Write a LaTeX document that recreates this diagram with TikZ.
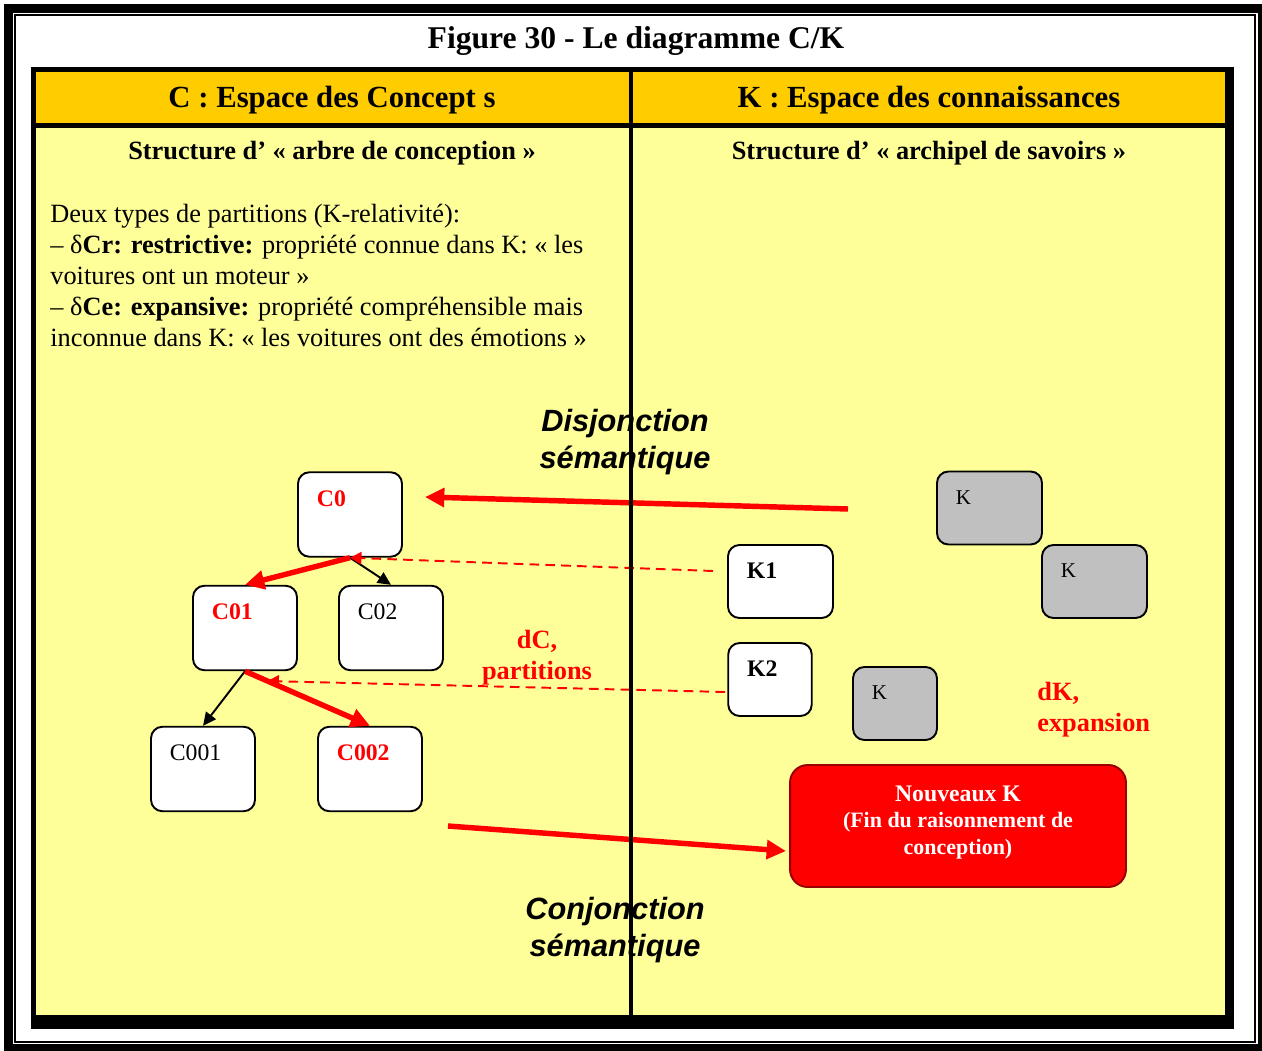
\documentclass[tikz,border=0pt]{standalone}
\usepackage{fontspec}
\setmainfont{Liberation Serif}
\newfontfamily\arialfont{Liberation Sans}
\usetikzlibrary{arrows.meta}
\usetikzlibrary{calc}
\definecolor{gold}{HTML}{FFCC00}
\definecolor{paleyellow}{HTML}{FFFF99}
\definecolor{boxgrey}{HTML}{C0C0C0}
\definecolor{darkred}{HTML}{990000}
\tikzset{
	box/.style = {
		rectangle,
		rounded corners=6.5pt,
		inner sep=0pt,
		draw=black,
		line width=1.1pt,
		fill=white
	},
	node_c/.style = {
		box,
		minimum width=2.08cm,
		minimum height=1.69cm
	},
	node_k/.style = {
		box,
		minimum width=2.1cm,
		minimum height=1.46cm
	},
	node_ks/.style = {
		node_k,
		minimum width=1.67cm
	},
	node_kg/.style = {
		node_k,
		fill=boxgrey
	},
	node_new/.style = {
		box,
		rounded corners=10pt,
		draw=darkred,
		fill=red,
		minimum width=6.72cm,
		minimum height=2.44cm
	},
	tag/.style = {
		anchor=west,
		inner sep=0pt,
		shift={(19.5,27)},
		font=\fontsize{13.5pt}{16pt}\selectfont
	},
	tag_r/.style = {
		tag,
		red,
		font=\fontsize{13.5pt}{16pt}\selectfont\bfseries
	},
	tag_b/.style = {
		tag,
		font=\fontsize{13.5pt}{16pt}\selectfont\bfseries
	},
	tag_g/.style = {
		tag,
		font=\fontsize{12pt}{14pt}\selectfont
	},
	title/.style = {
		anchor=base,
		inner sep=0pt,
		font=\fontsize{18pt}{21pt}\selectfont\bfseries
	},
	head/.style = {
		title,
		font=\fontsize{17.5pt}{21pt}\selectfont\bfseries
	},
	sub/.style = {
		title,
		font=\fontsize{15pt}{17.6pt}\selectfont\bfseries
	},
	para/.style = {
		anchor=base west,
		align=left,
		inner sep=0pt,
		font=\fontsize{15pt}{17.6pt}\selectfont
	},
	semantic/.style = {
		anchor=base,
		align=center,
		inner sep=0pt,
		font=\arialfont\bfseries\itshape\fontsize{17.5pt}{20.5pt}\selectfont
	},
	red_lbl/.style = {
		anchor=base,
		align=center,
		inner sep=0pt,
		red,
		font=\fontsize{15pt}{17.6pt}\selectfont\bfseries
	},
	new_text/.style = {
		anchor=base,
		align=center,
		inner sep=0pt,
		white,
		font=\fontsize{12.5pt}{15pt}\selectfont\bfseries
	},
	edge_k/.style = {
		-{Triangle[length=7.5pt,width=7pt]},
		line width=1.1pt,
		black
	},
	edge_r/.style = {
		-{Triangle[length=11pt,width=10.5pt]},
		line width=3.1pt,
		red
	},
	edge_d/.style = {
		-{Triangle[length=6.5pt,width=7pt]},
		line width=1.1pt,
		red,
		dash pattern=on 5.5pt off 3.5pt
	}
}
\begin{document}
\begin{tikzpicture}[x=0.02cm,y=-0.02cm]
\useasboundingbox (0,0) rectangle (1262,1051);
\clip (0,0) rectangle (1262,1051);
\fill[white] (0,0) rectangle (1262,1051);
% double cadre
\draw[line width=5pt] (8.3,8.3) rectangle (1262.3,1048.3);
\draw[line width=1.1pt] (15,15) rectangle (1255,1042);
% tableau C / K
\fill[black] (31,67) rectangle (1234,1029);
\foreach \xa/\xb in {36/629,633/1225}
{
	\fill[gold] (\xa,72) rectangle (\xb,123.5);
	\fill[paleyellow] (\xa,128) rectangle (\xb,1015);
}
\node[title] (title) at (636,49) {Figure 30 - Le diagramme C/K};
\node[head] (head_c) at (332,108) {C : Espace des Concept s};
\node[head] (head_k) at (929,108) {K : Espace des connaissances};
\node[sub] (sub_c) at (332,160) {Structure d’ « arbre de conception »};
\node[sub] (sub_k) at (929,160) {Structure d’ « archipel de savoirs »};
% base = derniere ligne
\node[para] (types) at (50,346) {Deux types de partitions (K-relativité):\\
– δ\textbf{Cr: restrictive:} propriété connue dans K: « les\\
voitures ont un moteur »\\
– δ\textbf{Ce: expansive:} propriété compréhensible mais\\
inconnue dans K: « les voitures ont des émotions »};

% arbre de conception
\node[node_c, label={[tag_r]north west:C0}] (C0) at (350,514.5) {};
\node[node_c, label={[tag_r]north west:C01}] (C01) at (245,628) {};
\node[node_c, label={[tag]north west:C02}] (C02) at (391,628) {};
\node[node_c, label={[tag]north west:C001}] (C001) at (203,769) {};
\node[node_c, label={[tag_r]north west:C002}] (C002) at (370,769) {};

% archipel de savoirs
\node[node_k, label={[tag_b]north west:K1}] (K1) at (780.5,581.5) {};
\node[node_ks, label={[tag_b]north west:K2}] (K2) at (770,679.5) {};
\node[node_kg, label={[tag_g]north west:K}] (Ka) at (989.5,508) {};
\node[node_kg, label={[tag_g]north west:K}] (Kb) at (1094.5,581.5) {};
\node[node_kg, minimum width=1.68cm, label={[tag_g]north west:K}] (Kc) at (895,703.5) {};
\node[node_new] (NK) at (958,826) {};
\node[new_text] (NK_txt) at (958,854) {{\fontsize{13.5pt}{15pt}\selectfont Nouveaux K}\\(Fin du raisonnement de\\conception)};

\node[semantic] (disj) at (625,468) {Disjonction\\sémantique};
\node[semantic] (conj) at (615,956) {Conjonction\\sémantique};
\node[red_lbl] (dC) at (537,679) {dC,\\partitions};
\node[red_lbl, anchor=base west, align=left] (dK) at (1037,731) {dK,\\expansion};

\coordinate (disj_from) at (848,509);
\coordinate (disj_to) at (425,497);
\coordinate (conj_from) at (448,826);
\coordinate (conj_to) at (786,851);
\coordinate (k1_in) at (713,571);
\coordinate (k2_in) at (725,692);
\coordinate (c01_out) at ($(C01.south)!0.18!(C002.north)$);

\draw[edge_k] (C0.south) -- (C02.north);
\draw[edge_k] (C01.south) -- (C001.north);
\draw[edge_r] (C0.south) -- (C01.north);
\draw[edge_r] (C01.south) -- (C002.north);
\draw[edge_d] (k1_in) -- (C0.south);
\draw[edge_d] (k2_in) -- (c01_out);
\draw[edge_r] (disj_from) -- (disj_to);
\draw[edge_r] (conj_from) -- (conj_to);
% separation des colonnes
\draw[line width=2.3pt] (631,123.5) -- (631,1015);
\end{tikzpicture}
\end{document}
